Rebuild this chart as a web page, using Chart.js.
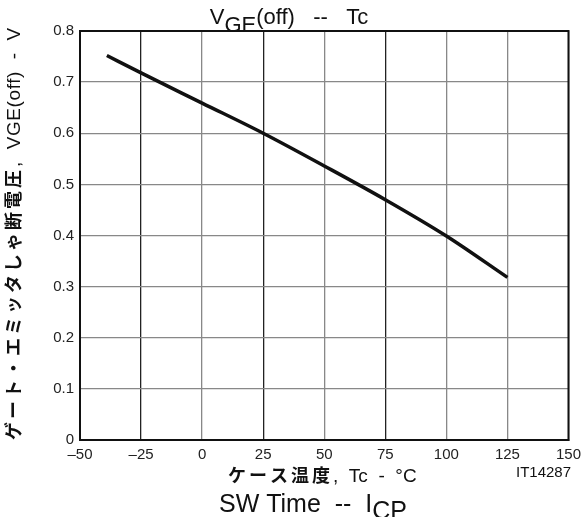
<!DOCTYPE html>
<html>
<head>
<meta charset="utf-8">
<script src="https://cdn.jsdelivr.net/npm/chart.js@4"></script>
<style>
  html, body { margin: 0; padding: 0; background: #fff; }
  #wrap { width: 587px; height: 517px; }
</style>
</head>
<body>
<div id="wrap"><canvas id="grafica" width="587" height="517"></canvas></div>
<script>
// data
var temps = [-39, -25, 0, 25, 50, 75, 100, 125];
var vgeOff = [0.752, 0.718, 0.659, 0.600, 0.536, 0.470, 0.399, 0.318];
var xTicks = [-50, -25, 0, 25, 50, 75, 100, 125, 150];
var xTickLabels = ['\u201350', '\u201325', '0', '25', '50', '75', '100', '125', '150'];
var yTickLabels = ['0', '0.1', '0.2', '0.3', '0.4', '0.5', '0.6', '0.7', '0.8'];
var darkGrid = [-25, 25, 75];

var LATIN = '"Liberation Sans", Arial, sans-serif';
var JP = '"Noto Sans CJK JP", sans-serif';

// draws a run of [text, font, dy, spacing] pieces starting at x, baseline y
function drawRun(ctx, parts, x, y) {
    parts.forEach(function (p) {
        ctx.font = p[1];
        ctx.letterSpacing = p[3] || '0px';
        ctx.fillText(p[0], x, y + (p[2] || 0));
        x += ctx.measureText(p[0]).width;
    });
    ctx.letterSpacing = '0px';
}
function runWidth(ctx, parts) {
    var w = 0;
    parts.forEach(function (p) {
        ctx.font = p[1];
        ctx.letterSpacing = p[3] || '0px';
        w += ctx.measureText(p[0]).width;
    });
    ctx.letterSpacing = '0px';
    return w;
}

var labelsPlugin = {
    id: 'labels',
    afterDraw: function (chart) {
        var ctx = chart.ctx;
        var a = chart.chartArea;
        ctx.save();
        // frame
        ctx.strokeStyle = '#111';
        ctx.lineWidth = 2;
        ctx.strokeRect(a.left, a.top, a.right - a.left, a.bottom - a.top);

        ctx.fillStyle = '#111';
        ctx.textBaseline = 'alphabetic';
        ctx.textAlign = 'left';

        // title
        var title = [
            ['V', '22px ' + LATIN, 0],
            ['GE', '22px ' + LATIN, 8],
            ['(off)   --   Tc', '22px ' + LATIN, 0]
        ];
        var tw = runWidth(ctx, title);
        drawRun(ctx, title, 289 - tw / 2, 24);

        // x axis title
        var xt = [
            ['ケース温度', 'bold 18px ' + JP, 0, '3px'],
            [',  Tc  -  °C', '19px ' + LATIN, 0]
        ];
        drawRun(ctx, xt, 228, 482);

        ctx.font = '15px ' + LATIN;
        ctx.fillText('IT14287', 516, 477);

        // second caption at the bottom
        var sw = [
            ['SW Time  --  I', '25px ' + LATIN, 0],
            ['CP', '25px ' + LATIN, 7]
        ];
        drawRun(ctx, sw, 219, 512);

        // y axis title, rotated
        ctx.translate(20, 440);
        ctx.rotate(-Math.PI / 2);
        var yt = [
            ['ゲート・エミッタしゃ断電圧', 'bold 18px ' + JP, 0, '3px'],
            [',  VGE(off)  -  V', '19px ' + LATIN, 0, '0.6px']
        ];
        drawRun(ctx, yt, 0, 0);
        ctx.restore();
    }
};

new Chart(document.getElementById('grafica').getContext('2d'), {
    type: 'line',
    data: {
        datasets: [{
            data: temps.map(function (t, i) { return { x: t, y: vgeOff[i] }; }),
            borderColor: '#111',
            borderWidth: 3.5,
            pointRadius: 0,
            cubicInterpolationMode: 'monotone',
            fill: false
        }]
    },
    options: {
        responsive: false,
        animation: false,
        layout: { padding: { top: 31, right: 15, left: 0, bottom: 0 } },
        plugins: { legend: { display: false }, tooltip: { enabled: false } },
        scales: {
            x: {
                type: 'linear',
                min: -50,
                max: 150,
                afterBuildTicks: function (s) { s.ticks = xTicks.map(function (v) { return { value: v }; }); },
                afterFit: function (s) { s.height = 77; },
                ticks: {
                    color: '#222',
                    font: { family: LATIN, size: 15 },
                    padding: 6,
                    maxRotation: 0,
                    callback: function (v) { return xTickLabels[xTicks.indexOf(v)]; }
                },
                grid: {
                    drawTicks: false,
                    lineWidth: 1.3,
                    color: function (c) { return darkGrid.indexOf(c.tick && c.tick.value) >= 0 ? '#222' : '#888'; }
                },
                border: { color: '#111', width: 2 }
            },
            y: {
                min: 0,
                max: 0.8,
                afterBuildTicks: function (s) { s.ticks = yTickLabels.map(function (v) { return { value: parseFloat(v) }; }); },
                afterFit: function (s) { s.width = 80; },
                ticks: {
                    color: '#222',
                    font: { family: LATIN, size: 15 },
                    padding: 6,
                    callback: function (v, i) { return yTickLabels[i]; }
                },
                grid: { drawTicks: false, lineWidth: 1.3, color: '#888' },
                border: { color: '#111', width: 2 }
            }
        }
    },
    plugins: [labelsPlugin]
});
</script>
</body>
</html>
